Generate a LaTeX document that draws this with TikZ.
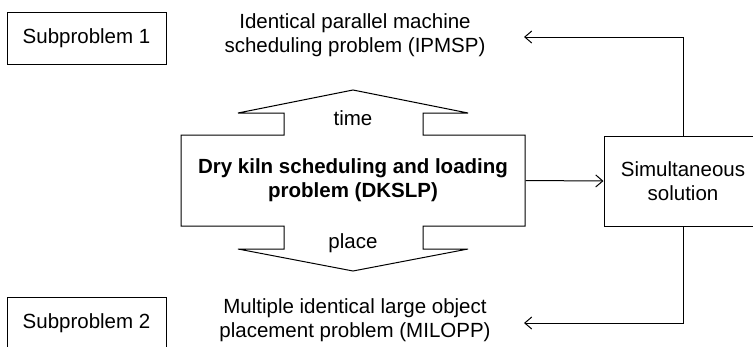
\documentclass[tikz,border=0pt]{standalone}
\usepackage{fontspec}
\setmainfont{Liberation Sans}
\usetikzlibrary{arrows.meta}

\tikzset{
    box/.style={draw, line width=1pt, minimum width=159, minimum height=52, inner sep=0pt, align=center},
    label text/.style={align=center, inner sep=0pt},
    >={Straight Barb[length=7pt,width=12pt]}
}

\begin{document}
\begin{tikzpicture}[x=1pt, y=-1pt, line width=1pt, font=\fontsize{20.5}{24}\selectfont]
            %\draw[lightgray] (0, 0) grid (753, 346);
            \clip (0, 0) rectangle (753, 346);
            \useasboundingbox (0, 0) rectangle (753, 346);

            \node[box](sub1) at (86.5, 38) {Subproblem 1};
            \node[box](sub2) at (86.5, 323.5) {Subproblem 2};

            \node[label text](ipmsp) at (355, 35) {Identical parallel machine\\scheduling problem (IPMSP)};
            \node[label text](milopp) at (355, 320) {Multiple identical large object\\placement problem (MILOPP)};

            % main problem with its two arrows
            \draw (181, 135) -- (284, 135) -- (284, 113) -- (238, 113) -- (353, 90)
                -- (468, 113) -- (423, 113) -- (423, 135) -- (525, 135) -- (525, 226)
                -- (423, 226) -- (423, 249) -- (468, 249) -- (353, 271) -- (238, 249)
                -- (284, 249) -- (284, 226) -- (181, 226) -- cycle;
            \node[minimum width=344, minimum height=91, inner sep=0pt](dkslp) at (353, 180.5) {};
            \node[label text, font=\fontsize{20.5}{24}\selectfont\bfseries] at (dkslp.center) {Dry kiln scheduling and loading\\problem (DKSLP)};
            \node[label text](time) at (353, 118) {time};
            \node[label text](place) at (353, 243) {place};

            \node[box, minimum width=158, minimum height=90](sim) at (683, 181) {Simultaneous\\solution};

            \coordinate (up) at (524, 37);
            \coordinate (down) at (524, 323);
            \draw[->] (dkslp.east) -- (sim.west);
            \draw[->] (sim.north) |- (up);
            \draw[->] (sim.south) |- (down);
        \end{tikzpicture}
\end{document}
